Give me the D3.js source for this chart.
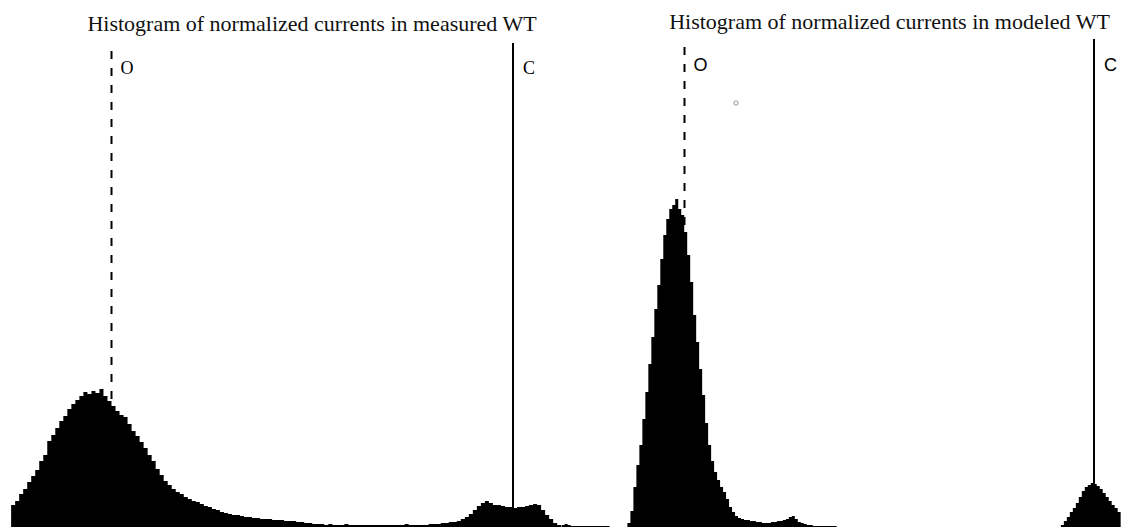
<!DOCTYPE html>
<html>
<head>
<meta charset="utf-8">
<script src="https://d3js.org/d3.v7.min.js"></script>
<style>
  body { margin: 0; background: #fff; }
  svg { display: block; }
</style>
</head>
<body>
<div id="chart"></div>
<script>

// normalized current axis: open level O = -1, closed level C = 0
var levelO = -1, levelC = 0;

// measured WT histogram, bins of 0.01 starting at -1.25 (arbitrary counts)
var measuredStart = -1.25, measuredStep = 0.01;
var measuredCounts = [
  22, 26, 33, 38, 45, 51, 57, 66, 72, 86,
  92, 99, 106, 111, 118, 123, 127, 131, 135, 133,
  136, 134, 138, 131, 126, 121, 116, 112, 110, 103,
  96, 91, 85, 79, 72, 66, 58, 52, 46, 42,
  38, 35, 33, 30, 28, 26, 25, 23, 21, 20,
  18, 17, 15, 14, 13, 12, 12, 11, 10, 10,
  9, 9, 8, 8, 8, 7, 7, 7, 6, 6,
  6, 5, 5, 4, 4, 3, 3, 3, 2, 3,
  2, 2, 2, 3, 2, 2, 2, 2, 2, 2,
  2, 2, 2, 2, 2, 2, 2, 2, 3, 2,
  2, 2, 2, 2, 3, 3, 3, 4, 4, 5,
  5, 6, 8, 10, 13, 17, 21, 24, 26, 24,
  22, 22, 21, 20, 20, 19, 20, 20, 21, 22,
  23, 22, 17, 12, 8, 4, 2
];

// modeled WT histogram, bins of 0.0073 starting at -1.3 (arbitrary counts)
var modeledStart = -1.3, modeledStep = 0.0073;
var modeledCounts = [
  2, 3, 2, 1, 1, 1, 1, 1, 1, 1,
  1, 1, 1, 1, 1, 1, 0, 0, 0, 0,
  0, 0, 4, 16, 40, 62, 82, 108, 135, 163,
  190, 218, 242, 268, 292, 308, 318, 322, 328, 318,
  312, 295, 272, 245, 212, 185, 158, 132, 104, 82,
  66, 55, 47, 40, 35, 28, 20, 15, 11, 9,
  8, 7, 7, 6, 6, 5, 5, 4, 4, 4,
  5, 5, 6, 6, 7, 8, 10, 11, 8, 5,
  4, 3, 2, 2, 1, 1, 1, 1, 1, 1,
  1, 1, 0, 0, 0, 0, 0, 0, 0, 0,
  0, 0, 0, 0, 0, 0, 0, 0, 0, 0,
  0, 0, 0, 0, 0, 0, 0, 0, 0, 0,
  0, 0, 0, 0, 0, 0, 0, 0, 0, 0,
  0, 0, 0, 0, 0, 0, 0, 0, 0, 0,
  0, 0, 0, 0, 0, 0, 0, 0, 0, 0,
  0, 0, 0, 0, 0, 0, 0, 0, 0, 0,
  0, 0, 0, 0, 0, 0, 0, 2, 6, 10,
  15, 19, 24, 30, 36, 40, 42, 44, 43, 41,
  38, 34, 30, 26, 22, 19, 15
];

var titles = [
  "Histogram of normalized currents in measured WT",
  "Histogram of normalized currents in modeled WT"
];

var width = 1124, height = 529;
var baseY = 527;

var svg = d3.select("#chart")
  .append("svg")
  .attr("width", width)
  .attr("height", height)
  .style("background", "#fff");

// shared count scale
var y = d3.scaleLinear().domain([0, 500]).range([baseY, 27]);

var panels = [
  {
    title: titles[0], start: measuredStart, step: measuredStep, counts: measuredCounts,
    x: d3.scaleLinear().domain([levelO, levelC]).range([111.5, 513]),
    titleX: 312, titleY: 31, oTop: 51, cTop: 43, labelY: 74, labelFont: "'Liberation Serif', serif"
  },
  {
    title: titles[1], start: modeledStart, step: modeledStep, counts: modeledCounts,
    x: d3.scaleLinear().domain([levelO, levelC]).range([684.5, 1094]),
    titleX: 889.5, titleY: 29, oTop: 47, cTop: 39, labelY: 71, labelFont: "'Liberation Sans', Arial, sans-serif"
  }
];

panels.forEach(function (p) {
  var g = svg.append("g");

  // reference levels
  g.append("line")
    .attr("x1", p.x(levelO)).attr("x2", p.x(levelO))
    .attr("y1", p.oTop).attr("y2", baseY)
    .attr("stroke", "#000").attr("stroke-width", 2)
    .attr("stroke-dasharray", "8,9");
  g.append("line")
    .attr("x1", p.x(levelC)).attr("x2", p.x(levelC))
    .attr("y1", p.cTop).attr("y2", baseY)
    .attr("stroke", "#000").attr("stroke-width", 2);

  // histogram as a filled step outline (bins joined, no seams)
  var bins = p.counts.map(function (c, i) { return { x0: p.start + i * p.step, n: c }; });
  bins.push({ x0: p.start + p.counts.length * p.step, n: p.counts[p.counts.length - 1] });
  var area = d3.area()
    .curve(d3.curveStepAfter)
    .x(function (d) { return p.x(d.x0); })
    .y0(baseY)
    .y1(function (d) { return y(d.n); });
  g.append("path")
    .datum(bins)
    .attr("d", area)
    .attr("fill", "#000");

  // labels
  g.append("text")
    .attr("x", p.x(levelO) + 9)
    .attr("y", p.labelY)
    .attr("font-family", p.labelFont)
    .attr("font-size", 18)
    .text("O");
  g.append("text")
    .attr("x", p.x(levelC) + 10)
    .attr("y", p.labelY)
    .attr("font-family", p.labelFont)
    .attr("font-size", 18)
    .text("C");

  g.append("text")
    .attr("x", p.titleX)
    .attr("y", p.titleY)
    .attr("text-anchor", "middle")
    .attr("font-family", "'Liberation Serif', 'Times New Roman', serif")
    .attr("font-size", 22)
    .attr("fill", "#111")
    .text(p.title);
});

// small stray marker in the modeled panel
svg.append("circle")
  .attr("cx", 736).attr("cy", 103).attr("r", 2.2)
  .attr("fill", "none").attr("stroke", "#999").attr("stroke-width", 1);

</script>
</body>
</html>
